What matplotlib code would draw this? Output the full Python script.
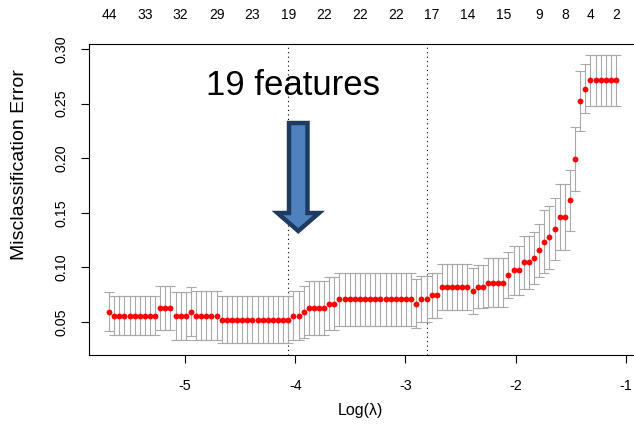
import matplotlib
matplotlib.use('Agg')
import matplotlib.pyplot as plt
from matplotlib.patches import Polygon

plt.rcParams['font.family'] = ['Liberation Sans', 'DejaVu Sans']
plt.rcParams['axes.unicode_minus'] = False

# log(lambda) path (100 values, left to right)
log_lambda = [
    -5.689, -5.643, -5.596, -5.550, -5.503, -5.457, -5.410, -5.364, -5.317, -5.271,
    -5.225, -5.178, -5.132, -5.085, -5.039, -4.992, -4.946, -4.899, -4.853, -4.806,
    -4.760, -4.714, -4.667, -4.621, -4.574, -4.528, -4.481, -4.435, -4.388, -4.342,
    -4.296, -4.249, -4.203, -4.156, -4.110, -4.063, -4.017, -3.970, -3.924, -3.877,
    -3.831, -3.785, -3.738, -3.692, -3.645, -3.599, -3.552, -3.506, -3.459, -3.413,
    -3.367, -3.320, -3.274, -3.227, -3.181, -3.134, -3.088, -3.041, -2.995, -2.949,
    -2.902, -2.856, -2.809, -2.763, -2.716, -2.670, -2.623, -2.577, -2.530, -2.484,
    -2.438, -2.391, -2.345, -2.298, -2.252, -2.205, -2.159, -2.112, -2.066, -2.020,
    -1.973, -1.927, -1.880, -1.834, -1.787, -1.741, -1.694, -1.648, -1.601, -1.555,
    -1.509, -1.462, -1.416, -1.369, -1.323, -1.276, -1.230, -1.183, -1.137, -1.091,
]

# mean cross-validated misclassification error
cv_mean = [
    0.0595, 0.0558, 0.0558, 0.0558, 0.0558, 0.0558, 0.0558, 0.0558, 0.0558, 0.0558,
    0.0631, 0.0631, 0.0631, 0.0558, 0.0558, 0.0558, 0.0595, 0.0558, 0.0558, 0.0558,
    0.0558, 0.0558, 0.0521, 0.0521, 0.0521, 0.0521, 0.0521, 0.0521, 0.0521, 0.0521,
    0.0521, 0.0521, 0.0521, 0.0521, 0.0521, 0.0521, 0.0558, 0.0558, 0.0595, 0.0631,
    0.0631, 0.0631, 0.0631, 0.0668, 0.0668, 0.0708, 0.0708, 0.0708, 0.0708, 0.0708,
    0.0708, 0.0708, 0.0708, 0.0708, 0.0708, 0.0708, 0.0708, 0.0708, 0.0708, 0.0708,
    0.0668, 0.0708, 0.0708, 0.0745, 0.0745, 0.0821, 0.0821, 0.0821, 0.0821, 0.0821,
    0.0821, 0.0787, 0.0821, 0.0821, 0.0860, 0.0860, 0.0860, 0.0860, 0.0933, 0.0973,
    0.0973, 0.1047, 0.1047, 0.1086, 0.1159, 0.1235, 0.1275, 0.1352, 0.1465, 0.1465,
    0.1614, 0.1993, 0.2524, 0.2637, 0.2713, 0.2713, 0.2713, 0.2713, 0.2713, 0.2713,
]

# standard error (half length of the grey bars)
cv_sd = [
    0.0177, 0.0177, 0.0177, 0.0177, 0.0177, 0.0177, 0.0177, 0.0177, 0.0177, 0.0177,
    0.0201, 0.0201, 0.0201, 0.0220, 0.0220, 0.0220, 0.0223, 0.0227, 0.0227, 0.0227,
    0.0227, 0.0227, 0.0217, 0.0217, 0.0217, 0.0217, 0.0217, 0.0217, 0.0217, 0.0217,
    0.0217, 0.0217, 0.0217, 0.0217, 0.0217, 0.0217, 0.0226, 0.0226, 0.0238, 0.0247,
    0.0247, 0.0247, 0.0247, 0.0241, 0.0241, 0.0241, 0.0241, 0.0241, 0.0241, 0.0241,
    0.0241, 0.0241, 0.0241, 0.0241, 0.0241, 0.0241, 0.0241, 0.0241, 0.0241, 0.0241,
    0.0223, 0.0211, 0.0211, 0.0208, 0.0208, 0.0208, 0.0208, 0.0208, 0.0208, 0.0208,
    0.0208, 0.0209, 0.0197, 0.0197, 0.0223, 0.0223, 0.0223, 0.0223, 0.0212, 0.0224,
    0.0224, 0.0241, 0.0241, 0.0235, 0.0243, 0.0290, 0.0285, 0.0284, 0.0302, 0.0302,
    0.0276, 0.0290, 0.0279, 0.0227, 0.0232, 0.0232, 0.0232, 0.0232, 0.0232, 0.0232,
]

# number of non-zero coefficients shown on the top axis
nzero_idx = [0, 7, 14, 21, 28, 35, 42, 49, 56, 63, 70, 77, 84, 89, 94, 99]
nzero = [44, 33, 32, 29, 23, 19, 22, 22, 22, 17, 14, 15, 9, 8, 4, 2]

idx_min = 35   # lambda.min
idx_1se = 62   # lambda.1se

xticks = [-5, -4, -3, -2, -1]
yticks = [0.05, 0.10, 0.15, 0.20, 0.25, 0.30]

W, H = 634, 434
fig = plt.figure(figsize=(W / 100, H / 100), dpi=100)
ax = fig.add_axes([89 / W, 79 / H, 545 / W, 311 / H])

ax.errorbar(log_lambda, cv_mean, yerr=cv_sd, fmt='none', ecolor='#A9A9A9',
            elinewidth=0.8, capsize=3.4, capthick=0.8, zorder=2)
ax.plot(log_lambda, cv_mean, 'o', color='red', ms=4.2, mew=0, zorder=3)
ax.axvline(log_lambda[idx_min], color='black', lw=0.8, ls=(0, (1, 3)), zorder=1)
ax.axvline(log_lambda[idx_1se], color='black', lw=0.8, ls=(0, (1, 3)), zorder=1)

ax.set_xlim(-5.8707, -0.9274)
ax.set_ylim(0.0198, 0.3046)
ax.spines['right'].set_visible(False)
for s in ['left', 'bottom', 'top']:
    ax.spines[s].set_linewidth(0.8)

ax.set_xticks(xticks)
ax.set_yticks(yticks)
ax.set_yticklabels([f'{v:.2f}' for v in yticks], rotation=90, va='center')
ax.tick_params(axis='both', direction='out', length=6, width=0.8,
               labelsize=10.3)
ax.tick_params(axis='x', pad=11)
ax.tick_params(axis='y', pad=9)

ax_top = ax.twiny()
ax_top.set_xlim(ax.get_xlim())
ax_top.set_xticks([log_lambda[i] for i in nzero_idx])
ax_top.set_xticklabels([str(n) for n in nzero])
ax_top.tick_params(axis='x', length=0, labelsize=10, pad=16)
for s in ax_top.spines.values():
    s.set_visible(False)

fig.text(20 / W, 1 - 165 / H, 'Misclassification Error', rotation=90,
         ha='center', va='center', fontsize=14)
fig.text(360 / W, 1 - 410 / H, 'Log(λ)', ha='center', va='center', fontsize=11.5)

# annotation: big label and block arrow pointing at lambda.min
fig.text(293.5 / W, 1 - 85.5 / H, '19 features', ha='center', va='center',
         fontsize=25)
arrow_px = [(289, 123), (307.5, 123), (307.5, 213), (319, 213),
            (298.25, 231), (277.5, 213), (289, 213)]
arrow = Polygon([(x / W, 1 - y / H) for x, y in arrow_px], closed=True,
                transform=fig.transFigure, facecolor='#4F81BD',
                edgecolor='#1F3A5F', linewidth=3.2, joinstyle='miter')
fig.patches.append(arrow)

fig.savefig('out.png', dpi=100)
